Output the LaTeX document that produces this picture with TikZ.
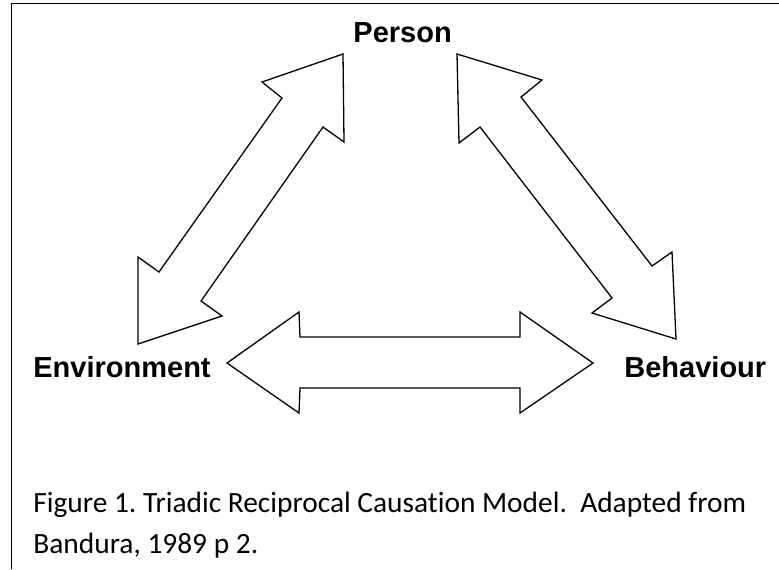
\documentclass[tikz,border=0pt]{standalone}
\usepackage{fontspec}
\setmainfont[Ligatures=NoCommon]{Carlito}
\newfontfamily\arialfont{Liberation Sans}
\usepackage{tikz}
\frenchspacing

\tikzset{
  factor/.style={inner sep=0pt, anchor=base west, font=\arialfont\bfseries\fontsize{14.5}{17}\selectfont},
  capline/.style={inner sep=0pt, anchor=base west, font=\fontsize{14.7}{18}\selectfont},
  blockarrow/.style={draw=black, line width=0.65pt, line join=miter, fill=white},
}

\begin{document}
\begin{tikzpicture}[x=0.5pt,y=-0.5pt]
  \useasboundingbox (0,0) rectangle (779,569);
  \draw[line width=0.8pt] (11.5,569)--(11.5,3.5)--(779,3.5);
  % the three factors
  \node[factor] (person) at (353,42) {Person};
  \node[factor] (environment) at (33,377) {Environment};
  \node[factor] (behaviour) at (624,377) {Behaviour};
  % Environment <-> Person
  \draw[blockarrow] (343,54)--(344,142)--(323,127)--(201,301)--(222,316)--(138,344)
    --(138,257)--(159,272)--(282,98)--(262,82)--cycle;
  % Person <-> Behaviour
  \draw[blockarrow] (457,54)--(542,80)--(521,97)--(652,266)--(672,252)--(676,339)
    --(592,313)--(612,298)--(480,127)--(459,143)--cycle;
  % Environment <-> Behaviour
  \draw[blockarrow] (227,363)--(299,312)--(300,337)--(520,337)--(520,312)--(593,363)
    --(520,413)--(520,388)--(300,388)--(299,413)--cycle;
  % caption
  \node[capline] (cap1) at (33,512) {Figure 1. Triadic Reciprocal Causation Model.\ \ Adapted from};
  \node[capline] (cap2) at (33,553) {Bandura, 1989 p 2.};
\end{tikzpicture}
\end{document}
